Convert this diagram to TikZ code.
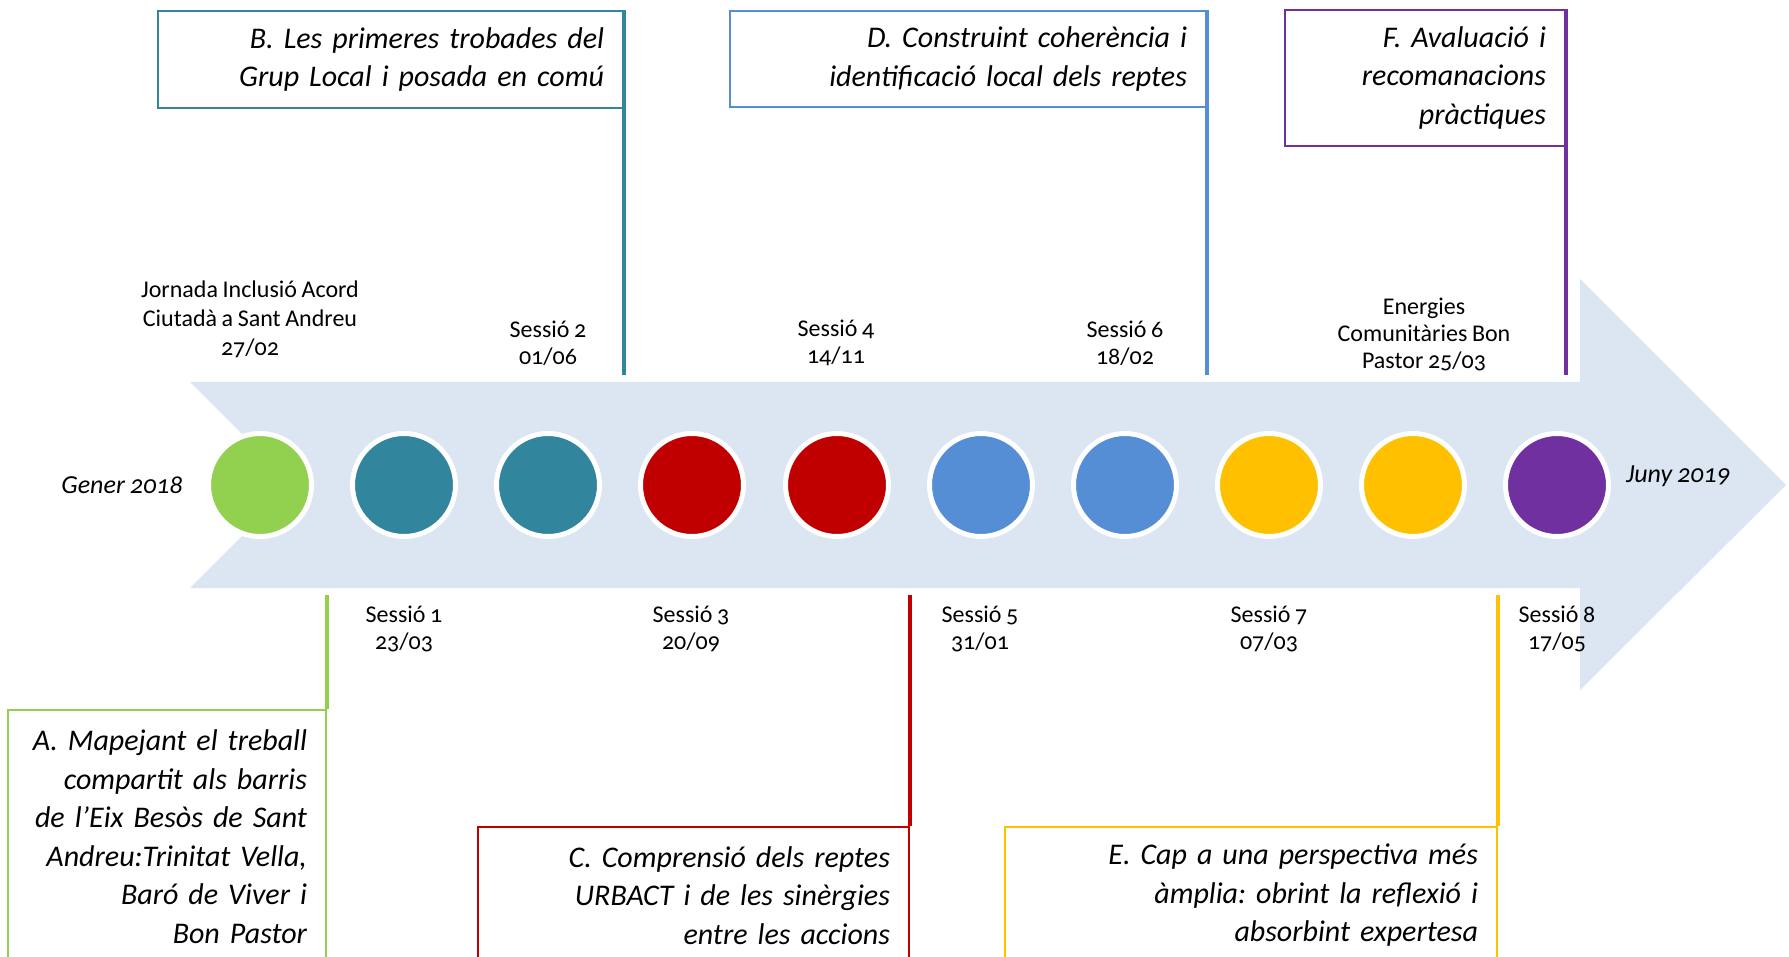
\documentclass[tikz,border=0pt]{standalone}
\usepackage{fontspec}
\setmainfont{Carlito}[Numbers=OldStyle,WordSpace=0.85]
\definecolor{arrowfill}{HTML}{DCE6F2}
\definecolor{cgreen}{HTML}{92D050}
\definecolor{cteal}{HTML}{31859C}
\definecolor{cred}{HTML}{C00000}
\definecolor{cblue}{HTML}{558ED5}
\definecolor{cgold}{HTML}{FFC000}
\definecolor{cpurple}{HTML}{7030A0}
\begin{document}
\frenchspacing
\begin{tikzpicture}[x=1pt,y=-1pt,
  phase/.style={draw=#1, line width=2pt, fill=white, align=right,
    font=\fontsize{30}{38.5}\selectfont\itshape, inner xsep=19pt, inner ysep=0pt, anchor=north east},
  link/.style={draw=#1, line width=3.5pt},
  dot/.style={circle, fill=#1, draw=white, line width=5pt, minimum size=103pt, inner sep=0pt},
  lbl/.style={align=center, font=\fontsize{24}{27}\selectfont, inner sep=0pt},
  endlbl/.style={font=\fontsize{26}{30}\selectfont\itshape, inner sep=0pt}]
\useasboundingbox (0,0) rectangle (1789,957);
\clip (0,0) rectangle (1789,957);
\fill[white] (0,0) rectangle (1789,957);
% arrow
\fill[arrowfill] (190,382) -- (1580,382) -- (1580,279) -- (1786,485) -- (1580,690)
  -- (1580,588) -- (190,588) -- (293,485) -- cycle;
% circles
\node[dot=cgreen]  (c1)  at (260,485) {};
\node[dot=cteal]   (c2)  at (404,485) {};
\node[dot=cteal]   (c3)  at (548,485) {};
\node[dot=cred]    (c4)  at (692,485) {};
\node[dot=cred]    (c5)  at (837,485) {};
\node[dot=cblue]   (c6)  at (981,485) {};
\node[dot=cblue]   (c7)  at (1125,485) {};
\node[dot=cgold]   (c8)  at (1269,485) {};
\node[dot=cgold]   (c9)  at (1413,485) {};
\node[dot=cpurple] (c10) at (1557,485) {};
% end labels
\node[endlbl] (start) at (122,485) {Gener 2018};
\node[endlbl] (end) at (1678,476) {Juny 2019};
% top labels
\node[lbl, font=\fontsize{24}{29}\selectfont] (l0) at (250,319) {Jornada Inclusió Acord\\Ciutadà a Sant Andreu\\27/02};
\node[lbl] (l2) at (548,343) {Sessió 2\\01/06};
\node[lbl] (l4) at (836,343) {Sessió 4\\14/11};
\node[lbl] (l6) at (1125,343) {Sessió 6\\18/02};
\node[lbl] (le) at (1424,334) {Energies\\Comunitàries Bon\\Pastor 25/03};
% bottom labels
\node[lbl] (l1) at (404,629) {Sessió 1\\23/03};
\node[lbl] (l3) at (691,629) {Sessió 3\\20/09};
\node[lbl] (l5) at (980,629) {Sessió 5\\31/01};
\node[lbl] (l7) at (1269,629) {Sessió 7\\07/03};
\node[lbl] (l8) at (1557,629) {Sessió 8\\17/05};
% phase boxes
\node[phase=cteal, text width=427pt, minimum height=97pt] (B) at (624,10)
  {B. Les primeres trobades del\\Grup Local i posada en comú};
\node[phase=cblue, text width=438pt, minimum height=96pt] (D) at (1207,10)
  {D. Construint coherència i\\identificació local dels reptes};
\node[phase=cpurple, text width=242pt, minimum height=136pt] (F) at (1566,9)
  {F. Avaluació i\\recomanacions\\pràctiques};
\node[phase=cgreen, text width=280pt, minimum height=253pt] (A) at (327,709)
  {A. Mapejant el treball\\compartit als barris\\de l’Eix Besòs de Sant\\Andreu:Trinitat Vella,\\Baró de Viver i\\Bon Pastor};
\node[phase=cred, text width=393pt, minimum height=137pt] (C) at (910,826)
  {C. Comprensió dels reptes\\URBACT i de les sinèrgies\\entre les accions};
\node[phase=cgold, text width=454pt, minimum height=137pt] (E) at (1498,826)
  {E. Cap a una perspectiva més\\àmplia: obrint la reflexió i\\absorbint expertesa};
% connectors
\coordinate (bB) at (624,375);
\coordinate (bD) at (1207,375);
\coordinate (bF) at (1566,375);
\coordinate (tA) at (327,595);
\coordinate (tC) at (910,595);
\coordinate (tE) at (1498,595);
\draw[link=cteal] (B.north east) -- (bB);
\draw[link=cblue] (D.north east) -- (bD);
\draw[link=cpurple] (F.north east) -- (bF);
\draw[link=cgreen] (A.north east) -- (tA);
\draw[link=cred] (C.north east) -- (tC);
\draw[link=cgold] (E.north east) -- (tE);
\end{tikzpicture}
\end{document}
